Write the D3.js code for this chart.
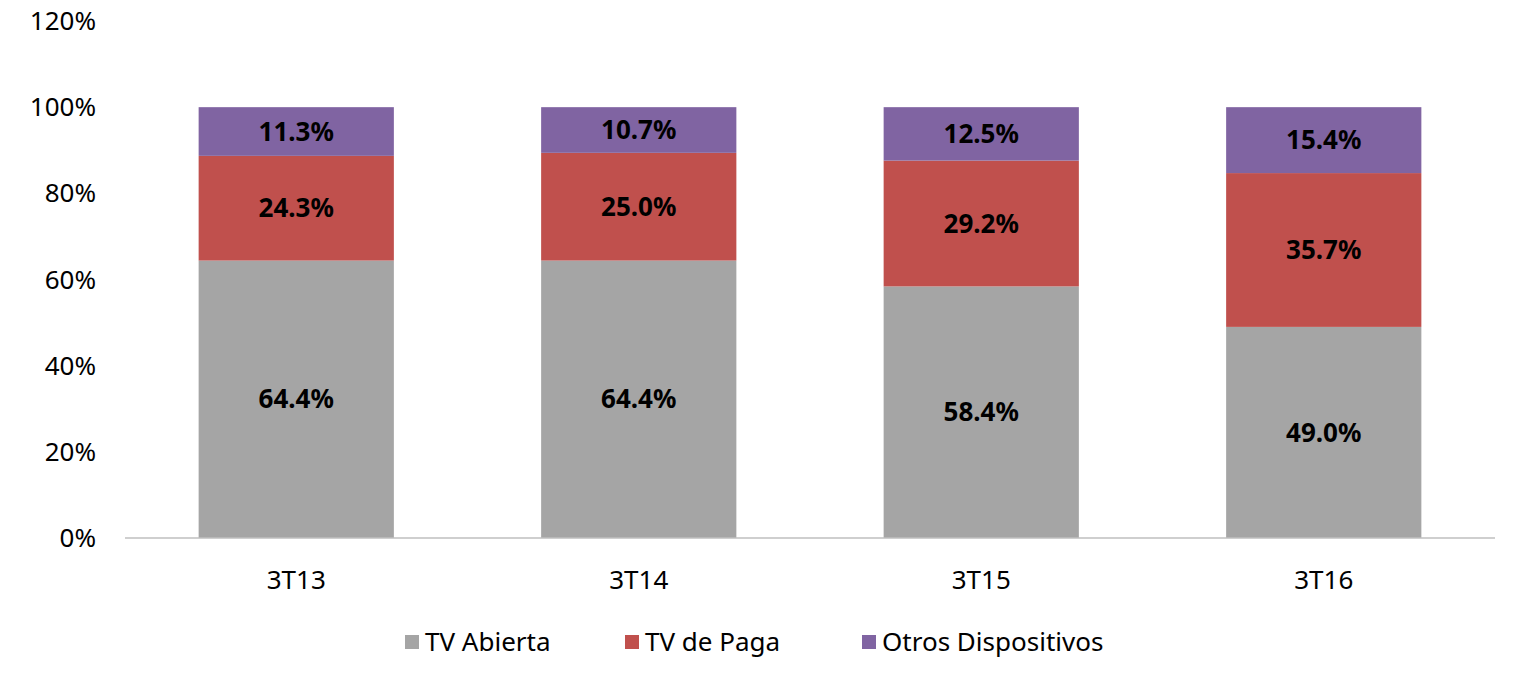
<!DOCTYPE html>
<html><head><meta charset="utf-8">
<script src="https://cdn.jsdelivr.net/npm/d3@7/dist/d3.min.js"></script>
<style>body{margin:0;background:#fff}</style></head>
<body><svg id="c" width="1520" height="680"></svg>
<script>
const categories = ["3T13","3T14","3T15","3T16"];
const seriesNames = ["TV Abierta","TV de Paga","Otros Dispositivos"];
const tvAbierta = [64.4,64.4,58.4,49.0];
const tvPaga = [24.3,25.0,29.2,35.7];
const otros = [11.3,10.7,12.5,15.4];
const yTicks = [0,20,40,60,80,100,120];
const colors = ["#a5a5a5","#c0504d","#8064a2"];
const font = "'Noto Sans', 'DejaVu Sans', sans-serif";

const svg = d3.select("#c");
const x = d3.scaleBand().domain(categories).range([125,1495]).paddingInner(0.43).paddingOuter(0.215);
const y = d3.scaleLinear().domain([0,120]).range([538,21]);

const rows = categories.map((c,i)=>({cat:c,"TV Abierta":tvAbierta[i],"TV de Paga":tvPaga[i],"Otros Dispositivos":otros[i]}));
const stack = d3.stack().keys(seriesNames)(rows);

svg.append("g").selectAll("text").data(yTicks).join("text")
  .attr("x",96).attr("y",d=>y(d)).attr("dy","0.35em").attr("text-anchor","end")
  .attr("font-family",font).attr("font-size",26).attr("fill","#000").text(d=>d+"%");

stack.forEach((s,si)=>{
  const g = svg.append("g");
  g.selectAll("rect").data(s).join("rect")
    .attr("x",d=>x(d.data.cat)).attr("width",x.bandwidth())
    .attr("y",d=>y(Math.min(d[1],100))).attr("height",d=>y(d[0])-y(Math.min(d[1],100)))
    .attr("fill",colors[si]);
  g.selectAll("text").data(s).join("text")
    .attr("x",d=>x(d.data.cat)+x.bandwidth()/2)
    .attr("y",d=>(y(d[0])+y(Math.min(d[1],100)))/2).attr("dy","0.35em")
    .attr("text-anchor","middle").attr("font-family",font).attr("font-weight","bold")
    .attr("font-size",26).attr("fill","#000").text(d=>(d[1]-d[0]).toFixed(1)+"%");
});

svg.append("line").attr("x1",125).attr("x2",1495).attr("y1",538).attr("y2",538).attr("stroke","#bfbfbf").attr("stroke-width",1.5);
svg.append("g").selectAll("text").data(categories).join("text")
  .attr("x",d=>x(d)+x.bandwidth()/2).attr("y",580).attr("dy","0.35em").attr("text-anchor","middle")
  .attr("font-family",font).attr("font-size",26).text(d=>d);

const legX = [405,625,862];
const lg = svg.append("g").selectAll("g").data(seriesNames).join("g")
  .attr("transform",(d,i)=>`translate(${legX[i]},642)`);
lg.append("rect").attr("x",0).attr("y",-7).attr("width",14).attr("height",14).attr("fill",(d,i)=>colors[i]);
lg.append("text").attr("x",20).attr("dy","0.35em").attr("font-family",font).attr("font-size",26).text(d=>d);
</script></body></html>
